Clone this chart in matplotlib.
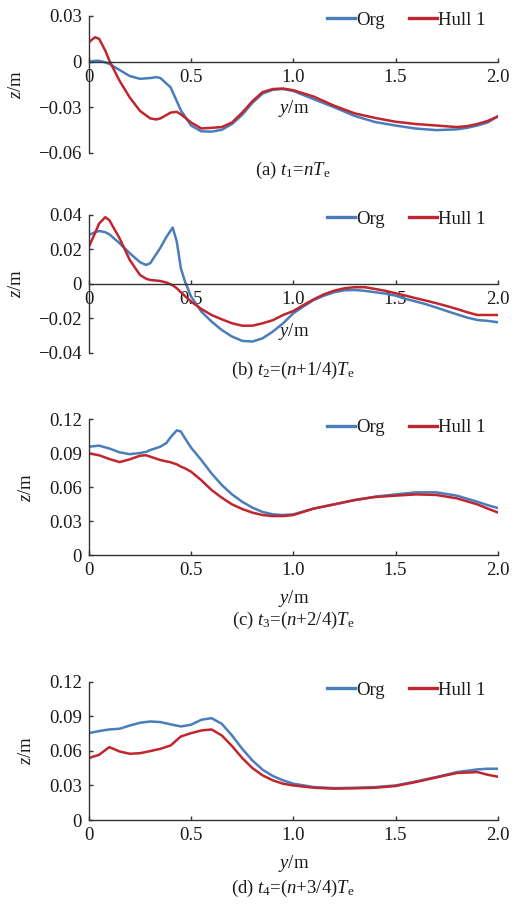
import matplotlib
matplotlib.use('Agg')
import matplotlib.pyplot as plt
from matplotlib.lines import Line2D

plt.rcParams['font.family'] = 'Liberation Serif'
plt.rcParams['mathtext.fontset'] = 'custom'
plt.rcParams['mathtext.rm'] = 'Liberation Serif'
plt.rcParams['mathtext.it'] = 'Liberation Serif:italic'

BLUE = '#4a7dbb'
RED = '#c0262f'

# (a) t1 = nTe
y_a = [0, 0.03, 0.05, 0.08, 0.1, 0.15, 0.2, 0.25, 0.3, 0.33, 0.35, 0.4, 0.43, 0.45,
       0.5, 0.55, 0.6, 0.65, 0.7, 0.75, 0.8, 0.85, 0.9, 0.95, 1.0, 1.1, 1.2, 1.3,
       1.4, 1.5, 1.6, 1.7, 1.8, 1.85, 1.9, 1.95, 2.0]
org_a = [0.0, 0.0005, 0.0005, -0.0005, -0.0015, -0.0055, -0.0095, -0.0113, -0.0108,
         -0.0102, -0.0108, -0.017, -0.026, -0.032, -0.042, -0.0458, -0.046, -0.0448,
         -0.041, -0.035, -0.027, -0.021, -0.0185, -0.018, -0.0193, -0.0247, -0.030,
         -0.0357, -0.0397, -0.042, -0.044, -0.045, -0.0445, -0.0435, -0.042, -0.040,
         -0.036]
hull_a = [0.0128, 0.016, 0.015, 0.0073, 0.0007, -0.0126, -0.0236, -0.0324, -0.0373,
          -0.038, -0.0373, -0.0335, -0.033, -0.0346, -0.040, -0.0439, -0.0435, -0.043,
          -0.040, -0.0335, -0.026, -0.020, -0.018, -0.0177, -0.0188, -0.023, -0.029,
          -0.034, -0.037, -0.0395, -0.041, -0.042, -0.043, -0.0424, -0.041, -0.039,
          -0.036]

# (b) t2 = (n+1/4)Te
y_b = [0, 0.03, 0.05, 0.08, 0.1, 0.15, 0.2, 0.25, 0.28, 0.3, 0.35, 0.38, 0.41, 0.43,
       0.45, 0.47, 0.5, 0.55, 0.6, 0.65, 0.7, 0.75, 0.8, 0.85, 0.9, 0.95, 1.0, 1.05,
       1.1, 1.15, 1.2, 1.25, 1.3, 1.35, 1.4, 1.45, 1.5, 1.55, 1.6, 1.65, 1.7, 1.75,
       1.8, 1.85, 1.9, 1.95, 2.0]
org_b = [0.0284, 0.030, 0.0307, 0.030, 0.0288, 0.0236, 0.0178, 0.0126, 0.011, 0.012,
         0.021, 0.0274, 0.0327, 0.0245, 0.009, 0.0014, -0.0073, -0.016, -0.0218,
         -0.0267, -0.0305, -0.033, -0.0334, -0.0315, -0.0276, -0.0228, -0.017, -0.013,
         -0.0093, -0.0068, -0.0048, -0.0037, -0.0035, -0.004, -0.0048, -0.0056,
         -0.0068, -0.0087, -0.0102, -0.0118, -0.0137, -0.0157, -0.0176, -0.0195,
         -0.0209, -0.0214, -0.0222]
hull_b = [0.0216, 0.0294, 0.035, 0.0387, 0.037, 0.0265, 0.0139, 0.0052, 0.003, 0.0023,
          0.0017, 0.0008, -0.0008, -0.0025, -0.0048, -0.007, -0.0102, -0.0145, -0.018,
          -0.0205, -0.0228, -0.0242, -0.0242, -0.0228, -0.021, -0.018, -0.0157,
          -0.0122, -0.0089, -0.006, -0.0039, -0.0025, -0.0019, -0.0019, -0.0029,
          -0.004, -0.0054, -0.0068, -0.0083, -0.0097, -0.0112, -0.0128, -0.0145,
          -0.0164, -0.018, -0.018, -0.018]

# (c) t3 = (n+2/4)Te
y_c = [0, 0.05, 0.1, 0.15, 0.2, 0.25, 0.28, 0.3, 0.35, 0.38, 0.4, 0.43, 0.45, 0.47,
       0.5, 0.55, 0.6, 0.65, 0.7, 0.75, 0.8, 0.85, 0.9, 0.95, 1.0, 1.1, 1.2, 1.3,
       1.4, 1.5, 1.6, 1.7, 1.8, 1.9, 1.95, 2.0]
org_c = [0.0956, 0.0965, 0.094, 0.0906, 0.089, 0.090, 0.091, 0.0926, 0.0956, 0.099,
         0.104, 0.110, 0.109, 0.103, 0.0947, 0.0838, 0.072, 0.0618, 0.0535, 0.047,
         0.0418, 0.038, 0.0359, 0.0353, 0.0359, 0.041, 0.0447, 0.0485, 0.0515, 0.0535,
         0.0553, 0.0553, 0.0524, 0.047, 0.044, 0.0415]
hull_c = [0.0897, 0.088, 0.0847, 0.082, 0.0844, 0.0876, 0.088, 0.0868, 0.0838, 0.0826,
          0.0818, 0.080, 0.078, 0.0765, 0.0735, 0.066, 0.0574, 0.0506, 0.0447, 0.0406,
          0.0374, 0.0353, 0.0344, 0.0344, 0.0353, 0.041, 0.0447, 0.0485, 0.0512,
          0.0524, 0.0535, 0.053, 0.050, 0.0447, 0.041, 0.0376]

# (d) t4 = (n+3/4)Te
y_d = [0, 0.05, 0.1, 0.15, 0.2, 0.25, 0.3, 0.35, 0.4, 0.45, 0.5, 0.55, 0.6, 0.65, 0.7,
       0.75, 0.8, 0.85, 0.9, 0.95, 1.0, 1.1, 1.2, 1.3, 1.4, 1.5, 1.6, 1.7, 1.8, 1.9,
       1.95, 2.0]
org_d = [0.0754, 0.0772, 0.0786, 0.0792, 0.082, 0.0844, 0.0855, 0.085, 0.083, 0.0812,
         0.0827, 0.087, 0.0884, 0.0835, 0.0734, 0.0618, 0.0517, 0.0436, 0.0382, 0.0344,
         0.0315, 0.0286, 0.0277, 0.028, 0.0286, 0.030, 0.0335, 0.0373, 0.0416, 0.0439,
         0.0445, 0.0445]
hull_d = [0.0538, 0.0566, 0.0633, 0.0595, 0.0575, 0.058, 0.0598, 0.0618, 0.0647,
          0.0725, 0.0754, 0.0777, 0.0786, 0.0734, 0.0642, 0.0538, 0.0451, 0.0387,
          0.0344, 0.0315, 0.030, 0.028, 0.0272, 0.0275, 0.028, 0.0295, 0.033, 0.037,
          0.0408, 0.0416, 0.0393, 0.0376]

x_ticks = [0, 0.5, 1.0, 1.5, 2.0]
x_labels = ['0', '0.5', '1.0', '1.5', '2.0']

panels = [
    dict(y=y_a, org=org_a, hull=hull_a, rect=[0.168, 0.831, 0.773, 0.1514],
         yticks=[-0.06, -0.03, 0, 0.03], ylabels=['\u22120.06', '\u22120.03', '0', '0.03'],
         ylab_x=-0.176, xlab_y=0.328, leg_y=1.03,
         caption=r'(a) $t_1$=$nT_\mathrm{e}$', cap_y=170),
    dict(y=y_b, org=org_b, hull=hull_b, rect=[0.168, 0.610, 0.773, 0.1525],
         yticks=[-0.04, -0.02, 0, 0.02, 0.04],
         ylabels=['\u22120.04', '\u22120.02', '0', '0.02', '0.04'],
         ylab_x=-0.176, xlab_y=0.152, leg_y=1.03,
         caption=r'(b) $t_2$=($n$+1/4)$T_\mathrm{e}$', cap_y=370),
    dict(y=y_c, org=org_c, hull=hull_c, rect=[0.168, 0.3867, 0.773, 0.1503],
         yticks=[0, 0.03, 0.06, 0.09, 0.12], ylabels=['0', '0.03', '0.06', '0.09', '0.12'],
         ylab_x=-0.152, xlab_y=-0.316, leg_y=1.0,
         caption=r'(c) $t_3$=($n$+2/4)$T_\mathrm{e}$', cap_y=620),
    dict(y=y_d, org=org_d, hull=hull_d, rect=[0.168, 0.0939, 0.773, 0.1528],
         yticks=[0, 0.03, 0.06, 0.09, 0.12], ylabels=['0', '0.03', '0.06', '0.09', '0.12'],
         ylab_x=-0.152, xlab_y=-0.318, leg_y=1.0,
         caption=r'(d) $t_4$=($n$+3/4)$T_\mathrm{e}$', cap_y=888),
]

fs = 13.5
fig = plt.figure(figsize=(5.29, 9.05), dpi=100)

for p in panels:
    ax = fig.add_axes(p['rect'])
    ax.plot(p['y'], p['org'], color=BLUE, lw=1.8, solid_joinstyle='round')
    ax.plot(p['y'], p['hull'], color=RED, lw=1.8, solid_joinstyle='round')

    ax.set_xlim(0, 2.0)
    ax.set_ylim(p['yticks'][0], p['yticks'][-1])
    ax.set_xticks(x_ticks, x_labels)
    ax.set_yticks(p['yticks'], p['ylabels'])

    for s in ['top', 'right']:
        ax.spines[s].set_visible(False)
    ax.spines['bottom'].set_position(('data', 0))
    for s in ['left', 'bottom']:
        ax.spines[s].set_color('#333333')
        ax.spines[s].set_linewidth(1.0)
    ax.tick_params(direction='in', length=3, width=1.0, color='#333333',
                   labelsize=fs, labelcolor='#1a1a1a')
    ax.tick_params(axis='x', pad=5)
    ax.tick_params(axis='y', pad=5)

    ax.set_xlabel('$y$/m', fontsize=fs, color='#1a1a1a')
    ax.xaxis.set_label_coords(0.5, p['xlab_y'])
    ax.xaxis.label.set_va('center')
    ax.set_ylabel('$z$/m', fontsize=fs, color='#1a1a1a')
    ax.yaxis.set_label_coords(p['ylab_x'], 0.5)
    ax.yaxis.label.set_va('center')

    handles = [Line2D([], [], color=BLUE, lw=2.4), Line2D([], [], color=RED, lw=2.4)]
    ax.legend(handles, ['Org', 'Hull 1'], loc='upper right',
              bbox_to_anchor=(0.97, p['leg_y']), ncol=2, frameon=False,
              fontsize=fs, handlelength=1.5, handletextpad=0.05,
              columnspacing=1.3, borderpad=0, borderaxespad=0,
              labelcolor='#1a1a1a')

    fig.text(293 / 529, 1 - p['cap_y'] / 905, p['caption'], fontsize=fs,
             ha='center', va='center', color='#1a1a1a')

fig.savefig('out.png', dpi=100, facecolor='white')
